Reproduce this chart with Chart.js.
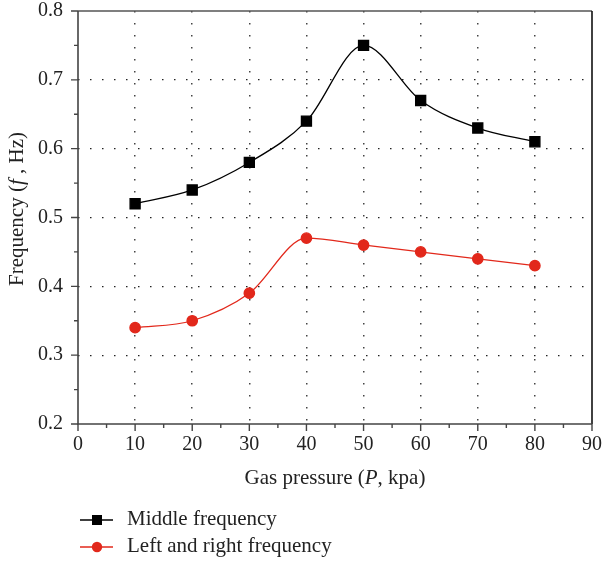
<!DOCTYPE html>
<html>
<head>
<meta charset="utf-8">
<script src="https://cdn.jsdelivr.net/npm/chart.js@4"></script>
<style>
  html, body { margin: 0; padding: 0; background: #fff; }
  #wrap { width: 602px; height: 562px; }
</style>
</head>
<body>
<div id="wrap"><canvas id="freqChart" width="602" height="562"></canvas></div>
<script>
const pressure = [10, 20, 30, 40, 50, 60, 70, 80];
const middleFreq = [0.52, 0.54, 0.58, 0.64, 0.75, 0.67, 0.63, 0.61];
const sideFreq = [0.34, 0.35, 0.39, 0.47, 0.46, 0.45, 0.44, 0.43];
const seriesNames = ["Middle frequency", "Left and right frequency"];

const FONT = "'Liberation Serif', 'DejaVu Serif', serif";
const RED = "#e2281b";

function toPoints(ys) {
  return pressure.map((p, i) => ({ x: p, y: ys[i] }));
}

// dotted grid, hidden on the frame edges
function gridColor(min, max, col) {
  return (ctx) => {
    const v = ctx.tick && ctx.tick.value;
    if (Math.abs(v - min) < 1e-6 || Math.abs(v - max) < 1e-6) return "rgba(0,0,0,0)";
    return col;
  };
}

// no extra padding from the end labels, keeps the plot box fixed
function fixPadding(s) {
  s.paddingTop = 0; s.paddingBottom = 0; s.paddingLeft = 0; s.paddingRight = 0;
}

// frame, minor ticks, axis titles and legend
const decor = {
  id: "decor",
  afterDraw(chart) {
    const { ctx, chartArea: a, scales } = chart;
    const xs = scales.x, ys = scales.y;
    ctx.save();

    // frame
    ctx.lineWidth = 1.6;
    ctx.strokeStyle = "#555";
    ctx.beginPath();
    ctx.moveTo(a.left, a.top); ctx.lineTo(a.right, a.top);
    ctx.stroke();
    ctx.strokeStyle = "#111";
    ctx.beginPath();
    ctx.moveTo(a.right, a.top); ctx.lineTo(a.right, a.bottom);
    ctx.stroke();
    ctx.strokeStyle = "#444";
    ctx.beginPath();
    ctx.moveTo(a.left, a.top); ctx.lineTo(a.left, a.bottom); ctx.lineTo(a.right, a.bottom);
    ctx.stroke();

    // ticks, major and minor, pointing out
    ctx.lineWidth = 1.4;
    ctx.strokeStyle = "#444";
    ctx.beginPath();
    xs.ticks.forEach((t, i) => {
      const px = xs.getPixelForValue(t.value);
      ctx.moveTo(px, a.bottom); ctx.lineTo(px, a.bottom + 7);
      if (i < xs.ticks.length - 1) {
        const m = xs.getPixelForValue((t.value + xs.ticks[i + 1].value) / 2);
        ctx.moveTo(m, a.bottom); ctx.lineTo(m, a.bottom + 4);
      }
    });
    ys.ticks.forEach((t, i) => {
      const py = ys.getPixelForValue(t.value);
      ctx.moveTo(a.left, py); ctx.lineTo(a.left - 7, py);
      if (i < ys.ticks.length - 1) {
        const m = ys.getPixelForValue((t.value + ys.ticks[i + 1].value) / 2);
        ctx.moveTo(a.left, m); ctx.lineTo(a.left - 4, m);
      }
    });
    ctx.stroke();

    // axis titles with italic symbols
    ctx.fillStyle = "#222";
    ctx.textBaseline = "middle";
    function drawParts(parts, cx, cy) {
      let w = 0;
      parts.forEach(p => { ctx.font = p[1] + " 21px " + FONT; w += ctx.measureText(p[0]).width; });
      let x = cx - w / 2;
      ctx.textAlign = "left";
      parts.forEach(p => {
        ctx.font = p[1] + " 21px " + FONT;
        ctx.fillText(p[0], x, cy);
        x += ctx.measureText(p[0]).width;
      });
    }
    drawParts([["Gas pressure (", "normal"], ["P", "italic"], [", kpa)", "normal"]],
      (a.left + a.right) / 2, 478);
    ctx.save();
    ctx.translate(17, 209);
    ctx.rotate(-Math.PI / 2);
    drawParts([["Frequency (", "normal"], ["f", "italic"], [" , Hz)", "normal"]], 0, 0);
    ctx.restore();

    // legend
    const rows = [520, 547];
    chart.data.datasets.forEach((ds, i) => {
      const y = rows[i];
      ctx.strokeStyle = ds.borderColor;
      ctx.lineWidth = 1.4;
      ctx.beginPath();
      ctx.moveTo(80, y); ctx.lineTo(113, y);
      ctx.stroke();
      ctx.fillStyle = ds.pointBackgroundColor;
      if (ds.pointStyle === "rect") {
        ctx.fillRect(97 - 5, y - 5, 10, 10);
      } else {
        ctx.beginPath();
        ctx.arc(97, y, 5.2, 0, Math.PI * 2);
        ctx.fill();
      }
      ctx.fillStyle = "#222";
      ctx.font = "21px " + FONT;
      ctx.textAlign = "left";
      ctx.fillText(ds.label, 127, y - 1);
    });

    ctx.restore();
  }
};

new Chart(document.getElementById("freqChart"), {
  type: "line",
  data: {
    datasets: [
      {
        label: seriesNames[0],
        data: toPoints(middleFreq),
        borderColor: "#000",
        backgroundColor: "#000",
        pointBackgroundColor: "#000",
        pointBorderColor: "#000",
        pointStyle: "rect",
        pointRadius: 7.1,
        borderWidth: 1.3,
        cubicInterpolationMode: "monotone",
        fill: false
      },
      {
        label: seriesNames[1],
        data: toPoints(sideFreq),
        borderColor: RED,
        backgroundColor: RED,
        pointBackgroundColor: RED,
        pointBorderColor: RED,
        pointStyle: "circle",
        pointRadius: 5.2,
        borderWidth: 1.3,
        cubicInterpolationMode: "monotone",
        fill: false
      }
    ]
  },
  options: {
    responsive: false,
    animation: false,
    layout: { padding: { top: 11, right: 10, left: 0, bottom: 0 } },
    plugins: {
      legend: { display: false },
      tooltip: { enabled: false }
    },
    scales: {
      x: {
        type: "linear",
        min: 0,
        max: 90,
        afterFit: (s) => { s.height = 138; fixPadding(s); },
        border: { display: false, dash: [1.5, 10.5] },
        grid: { color: gridColor(0, 90, "#444"), lineWidth: 1.5, drawTicks: false },
        ticks: { stepSize: 10, padding: 9, color: "#222", font: { family: FONT, size: 20 } }
      },
      y: {
        min: 0.2,
        max: 0.8,
        afterFit: (s) => { s.width = 78; fixPadding(s); },
        border: { display: false, dash: [1.5, 10.5] },
        grid: { color: gridColor(0.2, 0.8, "#222"), lineWidth: 1.3, drawTicks: false },
        ticks: {
          stepSize: 0.1, padding: 15, color: "#222", font: { family: FONT, size: 20 },
          callback: (v) => v.toFixed(1)
        }
      }
    }
  },
  plugins: [decor]
});
</script>
</body>
</html>
